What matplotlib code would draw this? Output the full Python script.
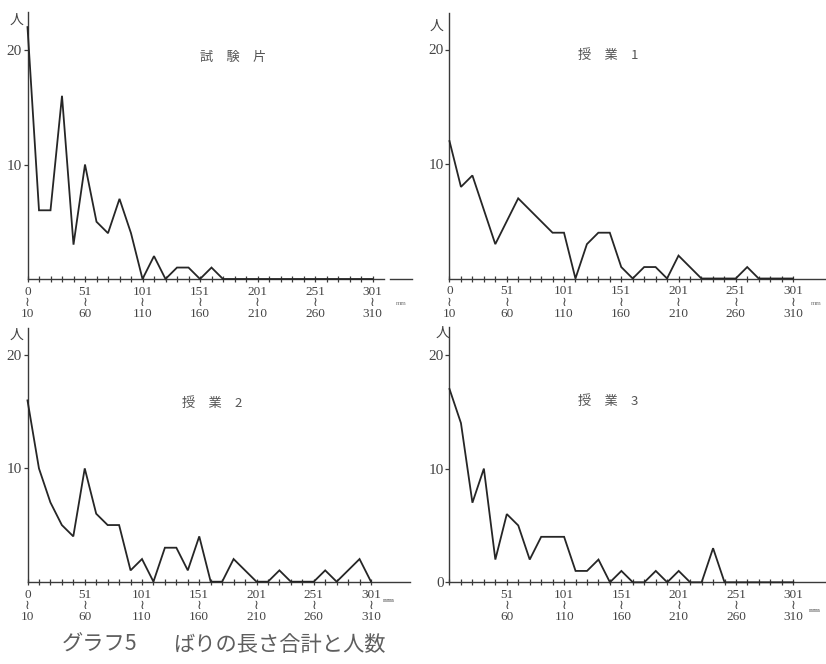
import matplotlib
matplotlib.use("Agg")
import matplotlib.pyplot as plt

# ---------------- data (people per 10 mm length bin) ----------------
bins = list(range(31))                     # 0-10, 11-20, ..., 301-310
major_bins = [0, 5, 10, 15, 20, 25, 30]
range_lo = ["0", "51", "101", "151", "201", "251", "301"]
range_hi = ["10", "60", "110", "160", "210", "260", "310"]

shikenhen = [22, 6, 6, 16, 3, 10, 5, 4, 7, 4, 0, 2, 0, 1, 1, 0, 1, 0,
             0, 0, 0, 0, 0, 0, 0, 0, 0, 0, 0, 0, 0]
jugyo1 = [12, 8, 9, 6, 3, 5, 7, 6, 5, 4, 4, 0, 3, 4, 4, 1, 0, 1, 1, 0,
          2, 1, 0, 0, 0, 0, 1, 0, 0, 0, 0]
jugyo2 = [16, 10, 7, 5, 4, 10, 6, 5, 5, 1, 2, 0, 3, 3, 1, 4, 0, 0, 2, 1,
          0, 0, 1, 0, 0, 0, 1, 0, 1, 2, 0]
jugyo3 = [17, 14, 7, 10, 2, 6, 5, 2, 4, 4, 4, 1, 1, 2, 0, 1, 0, 0, 1, 0,
          1, 0, 0, 3, 0, 0, 0, 0, 0, 0, 0]

titles = ["試　験　片", "授　業　1", "授　業　2", "授　業　3"]
series = [shikenhen, jugyo1, jugyo2, jugyo3]
caption_a = "グラフ5"
caption_b = "ばりの長さ合計と人数"

# ---------------- layout ----------------
W, H = 826, 664
fig = plt.figure(figsize=(W / 100, H / 100), dpi=100)
fig.patch.set_facecolor("white")

SERIF = ["Liberation Serif", "DejaVu Sans", "Noto Sans CJK JP"]
CJK = ["Noto Sans CJK JP", "DejaVu Sans"]
LINE = "#262626"
AXC = "#3a3a3a"
TXT = "#444444"

geo = [
    dict(x0=27.5, base=279.0, top=12.0, right=384.0, ppb=11.50, ppu=11.45,
         title=(233, 57), person=(16, 20), unit=(401, 304), zero=False, first=True),
    dict(x0=449.5, base=278.5, top=13.0, right=826.0, ppb=11.45, ppu=11.45,
         title=(608, 55), person=(437, 26), unit=(816, 304), zero=False, first=True),
    dict(x0=27.5, base=581.7, top=328.0, right=410.0, ppb=11.45, ppu=11.33,
         title=(212, 403), person=(16, 335), unit=(389, 601), zero=False, first=True),
    dict(x0=449.5, base=582.3, top=327.0, right=826.0, ppb=11.46, ppu=11.37,
         title=(608, 402), person=(442, 333), unit=(815, 610), zero=True, first=False),
]


def fx(px):
    return px / W


def fy(py):
    return 1 - py / H


for i, (g, vals, ttl) in enumerate(zip(geo, series, titles)):
    ax = fig.add_axes([fx(g["x0"]), fy(g["base"]),
                       (g["right"] - g["x0"]) / W, (g["base"] - g["top"]) / H])
    ax.set_xlim(0, (g["right"] - g["x0"]) / g["ppb"])
    ax.set_ylim(0, (g["base"] - g["top"]) / g["ppu"])
    ax.patch.set_alpha(0)
    for s in ("top", "right"):
        ax.spines[s].set_visible(False)
    for s in ("left", "bottom"):
        ax.spines[s].set_color(AXC)
        ax.spines[s].set_linewidth(1.0)

    ax.plot(bins, vals, color=LINE, lw=1.3, solid_joinstyle="miter",
            clip_on=False, zorder=3)

    # x ticks
    ax.set_xticks(major_bins)
    ax.set_xticks(bins, minor=True)
    labels = [f"{lo}\n≀\n{hi}" for lo, hi in zip(range_lo, range_hi)]
    if not g["first"]:
        labels[0] = ""
    ax.set_xticklabels(labels, family=SERIF, fontsize=9.5, color=TXT,
                       linespacing=0.9)
    ax.tick_params(axis="x", which="both", direction="inout", length=4,
                   width=0.9, color=AXC, pad=3)

    # y ticks
    if g["zero"]:
        ax.set_yticks([0, 10, 20])
        ax.set_yticklabels(["0", "10", "20"], family=SERIF, fontsize=11,
                           color=TXT)
    else:
        ax.set_yticks([10, 20])
        ax.set_yticklabels(["10", "20"], family=SERIF, fontsize=11,
                           color=TXT)
    ax.tick_params(axis="y", direction="out", length=3, width=0.9,
                   color=AXC, pad=1)

    # decorations
    fig.text(fx(g["title"][0]), fy(g["title"][1]), ttl, family=CJK,
             fontsize=9.5, color="#555555", ha="center", va="center")
    fig.text(fx(g["person"][0]), fy(g["person"][1]), "人", family=CJK,
             fontsize=10, color=TXT, ha="center", va="center")
    fig.text(fx(g["unit"][0]), fy(g["unit"][1]), "mm", family=SERIF,
             fontsize=5, color="#777777", ha="center", va="center",
             fontweight="bold" if i >= 2 else "normal")

    if i == 0:
        x_a = (390 - g["x0"]) / g["ppb"]
        x_b = (412 - g["x0"]) / g["ppb"]
        ax.plot([x_a, x_b], [0, 0], color=AXC, lw=1.0, clip_on=False)

fig.text(fx(62), fy(645), caption_a, family=CJK, fontsize=15.3,
         color="#5e5e5e", ha="left", va="center")
fig.text(fx(173), fy(645), caption_b, family=CJK, fontsize=15.3,
         color="#5e5e5e", ha="left", va="center")

fig.savefig("out.png", dpi=100, facecolor="white")
